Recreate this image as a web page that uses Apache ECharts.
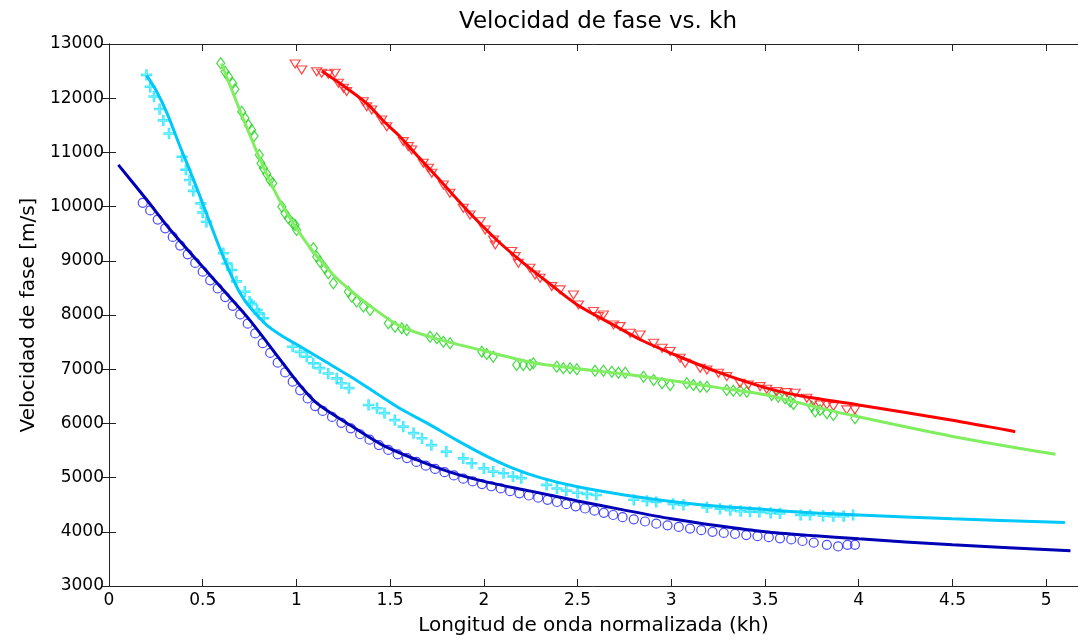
<!DOCTYPE html>
<html>
<head>
    <meta charset="utf-8">
    <title>Velocidad de fase vs. kh</title>
    <script src="https://cdn.jsdelivr.net/npm/echarts@6/dist/echarts.min.js"></script>
    <style>
        html, body { margin: 0; padding: 0; background: #fff; }
        #chart { width: 1078px; height: 641px; }
    </style>
</head>
<body>
<div id="chart"></div>
<script type="text/javascript">
    // curvas ajustadas (kh, velocidad)
    var blueFit = [[0.05,10770],[0.2,10130],[0.33,9560],[0.5,8890],[0.61,8460],[0.75,7910],[0.93,7100],[1.02,6700],[1.11,6370],[1.29,5960],[1.46,5600],[1.64,5330],[1.82,5100],[2.0,4930],[2.25,4750],[2.5,4570],[2.75,4400],[3.0,4240],[3.25,4110],[3.5,4000],[3.75,3930],[4.0,3870],[4.5,3760],[5.13,3650]];
    var cyanFit = [[0.2,12420],[0.25,12150],[0.31,11720],[0.38,11100],[0.43,10680],[0.49,10150],[0.54,9690],[0.59,9240],[0.65,8750],[0.70,8400],[0.75,8150],[0.84,7820],[0.93,7600],[1.02,7420],[1.15,7150],[1.29,6860],[1.42,6570],[1.55,6280],[1.7,6000],[1.85,5700],[2.0,5420],[2.15,5180],[2.3,5000],[2.5,4830],[2.75,4680],[3.0,4560],[3.25,4470],[3.5,4410],[3.75,4350],[4.0,4310],[4.5,4240],[5.1,4170]];
    var greenFit = [[0.6,12640],[0.7,11760],[0.8,10920],[0.9,10180],[1.0,9600],[1.1,9120],[1.2,8730],[1.3,8420],[1.4,8150],[1.55,7800],[1.75,7560],[2.0,7340],[2.25,7130],[2.5,7010],[2.75,6910],[3.0,6790],[3.25,6660],[3.5,6530],[3.75,6320],[4.0,6120],[4.5,5760],[5.05,5430]];
    var redFit = [[1.135,12500],[1.25,12230],[1.375,11906],[1.47,11560],[1.553,11290],[1.65,10920],[1.749,10552],[1.84,10200],[1.926,9876],[2.069,9384],[2.2,8990],[2.35,8580],[2.5,8185],[2.709,7784],[2.85,7520],[3.0,7293],[3.243,6954],[3.5,6660],[3.687,6510],[4.0,6340],[4.5,6060],[4.835,5847]];

    // puntos medidos
    var blueDots = [[0.18,10070],[0.22,9930],[0.26,9760],[0.30,9600],[0.34,9440],[0.38,9280],[0.42,9120],[0.46,8960],[0.50,8800],[0.54,8640],[0.58,8490],[0.62,8330],[0.66,8170],[0.70,8010],[0.74,7840],[0.78,7660],[0.82,7480],[0.86,7300],[0.90,7120],[0.94,6940],[0.98,6770],[1.02,6610],[1.06,6460],[1.10,6320],[1.14,6230],[1.19,6120],[1.24,6010],[1.29,5910],[1.34,5800],[1.39,5700],[1.44,5600],[1.49,5510],[1.54,5430],[1.59,5360],[1.64,5290],[1.69,5220],[1.74,5160],[1.79,5100],[1.84,5040],[1.89,4980],[1.94,4930],[1.99,4880],[2.04,4840],[2.09,4800],[2.14,4750],[2.19,4710],[2.24,4670],[2.29,4630],[2.34,4590],[2.39,4550],[2.44,4510],[2.49,4470],[2.54,4430],[2.59,4390],[2.64,4350],[2.69,4310],[2.74,4270],[2.80,4230],[2.86,4190],[2.92,4150],[2.98,4120],[3.04,4090],[3.10,4060],[3.16,4030],[3.22,4000],[3.28,3980],[3.34,3960],[3.40,3940],[3.46,3920],[3.52,3900],[3.58,3880],[3.64,3860],[3.70,3830],[3.76,3800],[3.83,3760],[3.89,3730],[3.94,3760],[3.98,3760]];
    var cyanDots = [[0.20,12430],[0.22,12210],[0.24,12030],[0.27,11800],[0.29,11590],[0.32,11350],[0.39,10920],[0.41,10680],[0.43,10490],[0.45,10290],[0.49,10060],[0.50,9890],[0.52,9720],[0.61,9140],[0.63,8950],[0.655,8830],[0.68,8620],[0.725,8430],[0.75,8245],[0.76,8200],[0.79,8090],[0.80,8030],[0.825,7940],[0.98,7415],[1.02,7320],[1.055,7230],[1.09,7110],[1.125,7020],[1.17,6920],[1.215,6830],[1.24,6740],[1.28,6650],[1.385,6340],[1.43,6280],[1.47,6190],[1.525,6060],[1.57,5940],[1.625,5820],[1.67,5725],[1.72,5600],[1.80,5480],[1.89,5355],[1.935,5265],[2.0,5170],[2.05,5110],[2.105,5080],[2.155,5020],[2.20,4990],[2.335,4865],[2.39,4800],[2.44,4760],[2.50,4720],[2.55,4700],[2.60,4680],[2.80,4590],[2.87,4570],[2.92,4550],[3.01,4515],[3.065,4495],[3.19,4450],[3.26,4425],[3.315,4400],[3.37,4380],[3.42,4370],[3.47,4365],[3.53,4350],[3.58,4340],[3.69,4310],[3.74,4310],[3.81,4295],[3.865,4290],[3.92,4290],[3.97,4310]];
    var greenDots = [[0.596,12644],[0.619,12489],[0.637,12397],[0.660,12275],[0.672,12164],[0.708,11751],[0.726,11629],[0.743,11506],[0.761,11413],[0.774,11303],[0.802,10952],[0.811,10799],[0.824,10706],[0.842,10601],[0.859,10491],[0.874,10430],[0.922,9998],[0.939,9876],[0.957,9784],[0.980,9692],[0.993,9662],[1.001,9568],[1.09,9230],[1.108,9076],[1.126,8984],[1.152,8862],[1.17,8770],[1.197,8585],[1.277,8431],[1.295,8339],[1.321,8247],[1.357,8155],[1.393,8093],[1.49,7847],[1.526,7785],[1.562,7755],[1.589,7723],[1.713,7600],[1.749,7569],[1.784,7508],[1.82,7477],[1.989,7323],[2.015,7280],[2.05,7231],[2.175,7077],[2.21,7077],[2.246,7077],[2.264,7109],[2.389,7046],[2.424,7016],[2.46,7016],[2.496,6997],[2.593,6972],[2.638,6972],[2.683,6954],[2.718,6935],[2.754,6935],[2.852,6862],[2.906,6801],[2.951,6740],[2.994,6708],[3.083,6740],[3.118,6708],[3.154,6677],[3.19,6677],[3.296,6616],[3.331,6603],[3.367,6603],[3.403,6585],[3.536,6524],[3.571,6493],[3.607,6463],[3.634,6402],[3.652,6360],[3.75,6310],[3.768,6218],[3.794,6247],[3.83,6186],[3.865,6155],[3.98,6094]];
    var redDots = [[0.993,12631],[1.028,12520],[1.108,12489],[1.135,12459],[1.17,12441],[1.206,12459],[1.224,12275],[1.251,12183],[1.268,12122],[1.357,11935],[1.375,11843],[1.402,11782],[1.455,11598],[1.482,11474],[1.57,11199],[1.597,11106],[1.615,11044],[1.677,10799],[1.704,10707],[1.722,10614],[1.784,10399],[1.819,10245],[1.89,9969],[1.926,9845],[1.98,9722],[2.007,9569],[2.052,9384],[2.061,9293],[2.149,9170],[2.167,9077],[2.184,8955],[2.246,8862],[2.273,8739],[2.3,8678],[2.362,8524],[2.407,8463],[2.478,8370],[2.505,8186],[2.585,8063],[2.612,7970],[2.638,8001],[2.692,7817],[2.727,7786],[2.781,7663],[2.834,7632],[2.906,7478],[2.951,7386],[2.994,7325],[3.047,7202],[3.074,7109],[3.154,7017],[3.19,6986],[3.252,6924],[3.296,6863],[3.367,6740],[3.411,6708],[3.474,6678],[3.509,6630],[3.563,6586],[3.616,6568],[3.661,6556],[3.723,6463],[3.758,6402],[3.794,6341],[3.83,6341],[3.865,6310],[3.936,6249],[3.98,6249]];

    var FONT = 'DejaVu Sans';
    var plus = 'path://M4.3,0H5.7V4.3H10V5.7H5.7V10H4.3V5.7H0V4.3H4.3Z';

    var myChart = echarts.init(document.getElementById('chart'));

    function fitLine(data, color) {
        return {
            type: 'line', data: data, smooth: 0.3, showSymbol: false, z: 5,
            lineStyle: { color: color, width: 3 }
        };
    }
    function dots(data, symbol, size, color, rotate) {
        return {
            type: 'scatter', data: data, symbol: symbol, symbolSize: size,
            symbolRotate: rotate || 0, z: 3,
            itemStyle: { color: 'rgba(0,0,0,0)', borderColor: color, borderWidth: 1.2, opacity: 0.85 }
        };
    }

    var ticks = { show: true, inside: true, length: 7, lineStyle: { color: '#222' } };

    myChart.setOption({
        animation: false,
        backgroundColor: '#fff',
        title: {
            text: 'Velocidad de fase vs. kh',
            left: 593, top: 6, textAlign: 'center',
            textStyle: { fontFamily: FONT, fontSize: 23, fontWeight: 'normal', color: '#000' }
        },
        grid: { left: 109, right: 0, top: 44, bottom: 55 },
        xAxis: [{
            type: 'value', min: 0, max: 5.17, interval: 0.5,
            name: 'Longitud de onda normalizada (kh)',
            nameLocation: 'middle', nameGap: 30,
            nameTextStyle: { fontFamily: FONT, fontSize: 20, color: '#000' },
            axisLine: { lineStyle: { color: '#222' } },
            axisTick: ticks,
            splitLine: { show: false },
            axisLabel: {
                fontFamily: FONT, fontSize: 17, color: '#000', margin: 6, showMaxLabel: false,
                formatter: function (v) { return Math.abs(v * 2 - Math.round(v * 2)) < 1e-6 ? String(v) : ''; }
            }
        }, {
            type: 'value', position: 'top', min: 0, max: 5.17, interval: 0.5,
            axisLine: { lineStyle: { color: '#222' } },
            axisTick: ticks, axisLabel: { show: false }, splitLine: { show: false }
        }],
        yAxis: [{
            type: 'value', min: 3000, max: 13000, interval: 1000,
            name: 'Velocidad de fase [m/s]',
            nameLocation: 'middle', nameGap: 68,
            nameTextStyle: { fontFamily: FONT, fontSize: 20, color: '#000' },
            axisLine: { show: true, lineStyle: { color: '#222' } },
            axisTick: ticks,
            splitLine: { show: false },
            axisLabel: {
                fontFamily: FONT, fontSize: 17, color: '#000', margin: 5,
                formatter: function (v) { return String(v); }
            }
        }, {
            type: 'value', position: 'right', min: 3000, max: 13000, interval: 1000,
            axisLine: { show: true, lineStyle: { color: '#222' } },
            axisTick: ticks, axisLabel: { show: false }, splitLine: { show: false }
        }],
        series: [
            dots(blueDots, 'circle', 9, '#2a2aff'),
            dots(cyanDots, plus, 10, '#20e4ff'),
            dots(greenDots, 'diamond', [8, 11], '#22d422'),
            dots(redDots, 'triangle', [10, 8], '#ff2a2a', 180),
            fitLine(blueFit, '#0000b4'),
            fitLine(cyanFit, '#00c8f8'),
            fitLine(greenFit, '#80ee60'),
            fitLine(redFit, '#ff0000')
        ]
    });
</script>
</body>
</html>
